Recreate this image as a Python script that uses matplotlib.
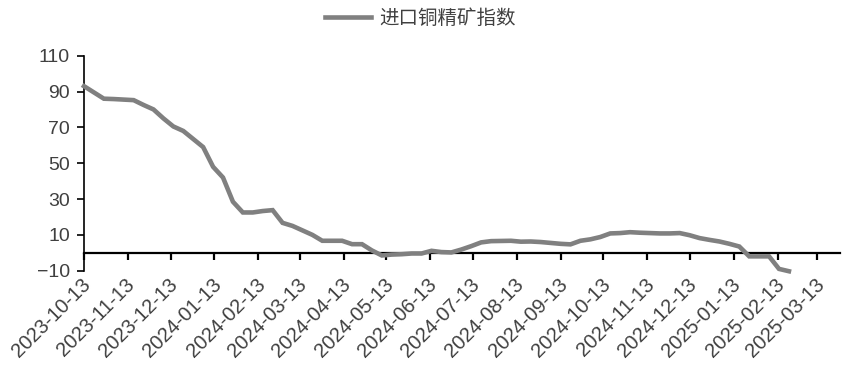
import matplotlib
matplotlib.use("Agg")
import matplotlib.pyplot as plt
import matplotlib.transforms as mtransforms
import pandas as pd

# ---- data ----
dates = [
    "2023-10-13", "2023-10-20", "2023-10-27", "2023-11-03", "2023-11-10", "2023-11-17",
    "2023-11-24", "2023-12-01", "2023-12-08", "2023-12-15", "2023-12-22", "2023-12-29",
    "2024-01-05", "2024-01-12", "2024-01-19", "2024-01-26", "2024-02-02", "2024-02-09",
    "2024-02-16", "2024-02-23", "2024-03-01", "2024-03-08", "2024-03-15", "2024-03-22",
    "2024-03-29", "2024-04-05", "2024-04-12", "2024-04-19", "2024-04-26", "2024-05-03",
    "2024-05-10", "2024-05-17", "2024-05-24", "2024-05-31", "2024-06-07", "2024-06-14",
    "2024-06-21", "2024-06-28", "2024-07-05", "2024-07-12", "2024-07-19", "2024-07-26",
    "2024-08-02", "2024-08-09", "2024-08-16", "2024-08-23", "2024-08-30", "2024-09-06",
    "2024-09-13", "2024-09-20", "2024-09-27", "2024-10-04", "2024-10-11", "2024-10-18",
    "2024-10-25", "2024-11-01", "2024-11-08", "2024-11-15", "2024-11-22", "2024-11-29",
    "2024-12-06", "2024-12-13", "2024-12-20", "2024-12-27", "2025-01-03", "2025-01-10",
    "2025-01-17", "2025-01-24", "2025-01-31", "2025-02-07", "2025-02-14", "2025-02-21",
]
index_values = [
    93.0, 89.5, 86.0, 85.8, 85.5, 85.2,
    82.5, 80.0, 75.0, 70.5, 68.0, 63.5,
    59.0, 48.0, 42.0, 28.5, 22.5, 22.5,
    23.3, 23.8, 16.7, 15.0, 12.5, 10.0,
    6.7, 6.7, 6.7, 4.8, 4.8, 1.3,
    -1.5, -1.0, -0.8, -0.4, -0.4, 1.1,
    0.4, 0.2, 1.8, 3.7, 5.8, 6.5,
    6.6, 6.7, 6.2, 6.3, 6.0, 5.5,
    5.0, 4.7, 6.7, 7.5, 8.8, 10.8,
    11.0, 11.5, 11.2, 11.0, 10.8, 10.8,
    11.0, 9.8, 8.2, 7.2, 6.3, 5.0,
    3.5, -2.0, -2.0, -2.0, -9.0, -10.3,
]
series_name = "进口铜精矿指数"
x_tick_labels = [
    "2023-10-13", "2023-11-13", "2023-12-13", "2024-01-13", "2024-02-13", "2024-03-13",
    "2024-04-13", "2024-05-13", "2024-06-13", "2024-07-13", "2024-08-13", "2024-09-13",
    "2024-10-13", "2024-11-13", "2024-12-13", "2025-01-13", "2025-02-13", "2025-03-13",
]
y_ticks = [-10, 10, 30, 50, 70, 90, 110]

# ---- fonts ----
plt.rcParams["font.family"] = ["Liberation Sans", "Noto Sans CJK SC", "DejaVu Sans"]

text_color = "#404040"
line_color = "#808080"

fig = plt.figure(figsize=(8.5, 3.7), dpi=100)
ax = fig.add_axes([84 / 850, 1 - 270.7 / 370, (840 - 84) / 850, (270.7 - 55.7) / 370])

x = pd.to_datetime(dates)
ax.plot(x, index_values, color=line_color, lw=3.3, solid_joinstyle="miter",
        label=series_name, clip_on=False, zorder=3)

ax.set_ylim(-10, 110)
ax.set_yticks(y_ticks)
ax.set_xlim(pd.Timestamp("2023-10-13"), pd.Timestamp("2025-03-29"))
ax.set_xticks(pd.to_datetime(x_tick_labels))
ax.set_xticklabels(x_tick_labels)

for s in ["top", "right"]:
    ax.spines[s].set_visible(False)
ax.spines["bottom"].set_position(("data", 0))
ax.spines["bottom"].set_linewidth(1.6)
ax.spines["left"].set_linewidth(1.2)
ax.spines["bottom"].set_zorder(2)

ax.tick_params(axis="y", direction="out", length=5, width=1.2, pad=5,
               labelsize=14, labelcolor=text_color)
ax.tick_params(axis="x", direction="out", length=5, width=1.6, pad=15.5,
               labelsize=14.5, labelcolor=text_color)

offset = mtransforms.ScaledTranslation(4 / 100, 0, fig.dpi_scale_trans)
for lab in ax.get_xticklabels():
    lab.set_rotation(45)
    lab.set_ha("right")
    lab.set_va("center")
    lab.set_rotation_mode("anchor")
    lab.set_transform(lab.get_transform() + offset)

leg = fig.legend(loc="center", bbox_to_anchor=(420 / 850, 1 - 18 / 370), frameon=False,
                 handlelength=2.4, handletextpad=0.4,
                 prop={"family": ["Noto Sans CJK SC", "DejaVu Sans"], "size": 14})
for t in leg.get_texts():
    t.set_color(text_color)

fig.savefig("out.png", dpi=100)
